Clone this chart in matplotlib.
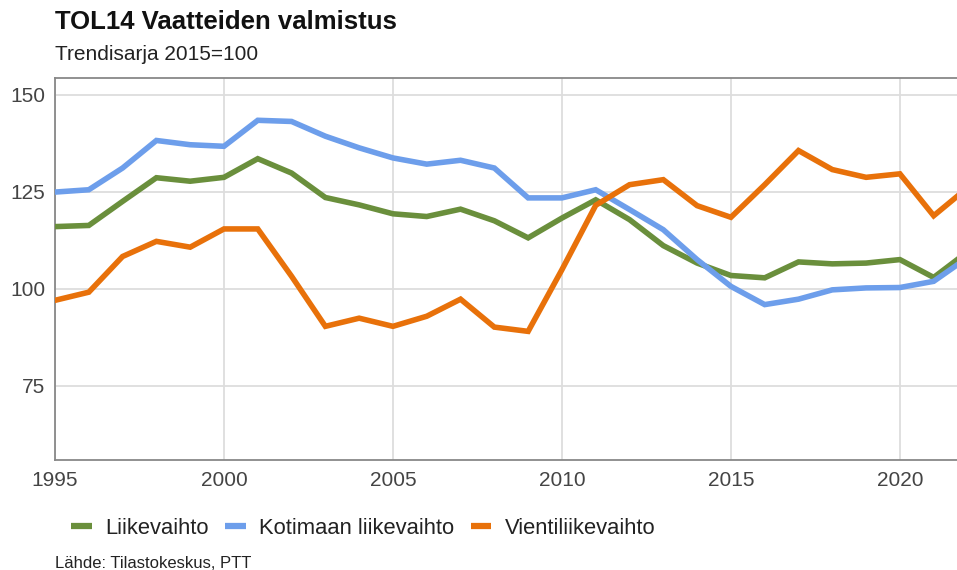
import matplotlib
matplotlib.use("Agg")
import matplotlib.pyplot as plt

plt.rcParams["font.family"] = ["Liberation Sans", "DejaVu Sans"]

years = list(range(1995, 2023))
liikevaihto = [116.0, 116.3, 122.5, 128.6, 127.7, 128.7, 133.5, 129.8, 123.5, 121.6,
               119.3, 118.6, 120.5, 117.5, 113.1, 118.2, 122.9, 117.8, 111.1, 106.6,
               103.4, 102.8, 106.9, 106.4, 106.6, 107.5, 102.9, 109.5]
kotimaan = [124.9, 125.5, 131.1, 138.2, 137.1, 136.7, 143.4, 143.1, 139.3, 136.3,
            133.7, 132.1, 133.1, 131.1, 123.4, 123.4, 125.5, 120.4, 115.2, 107.5,
            100.6, 95.9, 97.3, 99.7, 100.2, 100.3, 101.9, 108.0]
vienti = [97.0, 99.1, 108.3, 112.2, 110.7, 115.4, 115.4, 103.2, 90.3, 92.4,
          90.3, 92.9, 97.3, 90.1, 89.0, 104.9, 121.5, 126.8, 128.1, 121.4,
          118.4, 126.8, 135.6, 130.7, 128.7, 129.6, 118.8, 126.0]

series_names = ["Liikevaihto", "Kotimaan liikevaihto", "Vientiliikevaihto"]
colors = ["#6a8f3c", "#6d9eeb", "#e8710a"]
x_ticks = [1995, 2000, 2005, 2010, 2015, 2020]
y_ticks = [75, 100, 125, 150]

W, H = 957, 570
fig = plt.figure(figsize=(W / 100, H / 100), dpi=100)
ax = fig.add_axes([55 / W, (H - 460) / H, (W - 55) / W, (460 - 78) / H])

for vals, name, c in zip([liikevaihto, kotimaan, vienti], series_names, colors):
    ax.plot(years, vals, color=c, lw=4.0, label=name, solid_joinstyle="miter", zorder=3)

ax.set_xlim(1995, 2021.69)
ax.set_ylim(55.85, 154.3)
ax.set_xticks(x_ticks)
ax.set_yticks(y_ticks)
ax.grid(True, color="#dddddd", lw=1.3, zorder=0)
ax.tick_params(length=0, labelsize=15, colors="#444444")
ax.tick_params(axis="y", pad=7)
ax.tick_params(axis="x", pad=8)
for s in ["left", "bottom", "top"]:
    ax.spines[s].set_color("#888888")
    ax.spines[s].set_linewidth(1.3)
ax.spines["right"].set_visible(False)

fig.text(55 / W, 1 - 22 / H, "TOL14 Vaatteiden valmistus", fontsize=18.5,
         fontweight="bold", va="center", ha="left", color="#111111")
fig.text(55 / W, 1 - 55 / H, "Trendisarja 2015=100", fontsize=15,
         va="center", ha="left", color="#222222")
fig.text(55 / W, 1 - 563 / H, "Lähde: Tilastokeskus, PTT", fontsize=12,
         va="center", ha="left", color="#222222")

# legend below the plot, short thick handles
handles, labels = ax.get_legend_handles_labels()
leg = fig.legend(handles, labels, loc="center left", bbox_to_anchor=(71 / W, 1 - 528 / H),
                 ncol=3, frameon=False, fontsize=15.8, handlelength=0.95, handletextpad=0.6,
                 columnspacing=0.75, borderpad=0, borderaxespad=0, labelcolor="#222222")
for h in leg.legend_handles:
    h.set_linewidth(4.5)
    h.set_solid_capstyle("butt")

fig.savefig("out.png", dpi=100)
